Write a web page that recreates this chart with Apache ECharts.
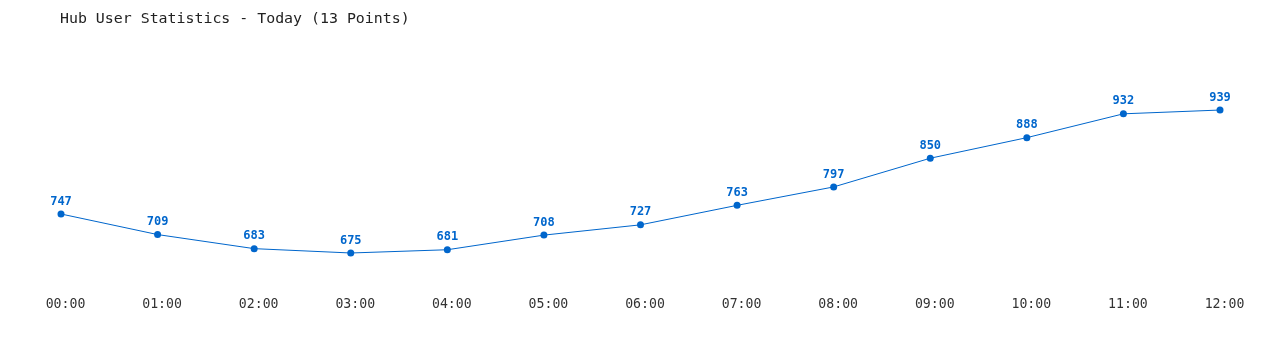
<!DOCTYPE html>
<html>
<head>
<meta charset="utf-8">
<script src="https://cdn.jsdelivr.net/npm/echarts@6/dist/echarts.min.js"></script>
<style>html,body{margin:0;padding:0;background:#fff;}#c{width:1280px;height:350px;}</style>
</head>
<body>
<div id="c"></div>
<script>
const titleText = 'Hub User Statistics - Today (13 Points)';
const categories = ['00:00','01:00','02:00','03:00','04:00','05:00','06:00','07:00','08:00','09:00','10:00','11:00','12:00'];
const users = [747,709,683,675,681,708,727,763,797,850,888,932,939];

const chart = echarts.init(document.getElementById('c'));
chart.setOption({
  animation: false,
  backgroundColor: '#ffffff',
  title: {
    text: titleText,
    left: 55, top: 7,
    textStyle: { fontFamily: 'DejaVu Sans Mono', fontSize: 14.9, fontWeight: 'normal', color: '#222' }
  },
  grid: { left: 61, right: 60, top: 77, bottom: 56.4 },
  xAxis: {
    type: 'category', data: categories, boundaryGap: false,
    axisLine: { show: false }, axisTick: { show: false },
    axisLabel: { fontFamily: 'DejaVu Sans Mono', fontSize: 13.2, color: '#333', margin: 4, padding: [0, 0, 0, 9] }
  },
  yAxis: {
    type: 'value', min: 600, max: 1000,
    show: false, splitLine: { show: false }
  },
  series: [{
    type: 'line', data: users,
    symbol: 'circle', symbolSize: 7,
    lineStyle: { color: '#0066cc', width: 1 },
    itemStyle: { color: '#0066cc' },
    label: { show: true, position: 'top', distance: 3,
      fontFamily: 'DejaVu Sans Mono', fontSize: 12, fontWeight: 'bold', color: '#0066cc' }
  }]
});
</script>
</body>
</html>
